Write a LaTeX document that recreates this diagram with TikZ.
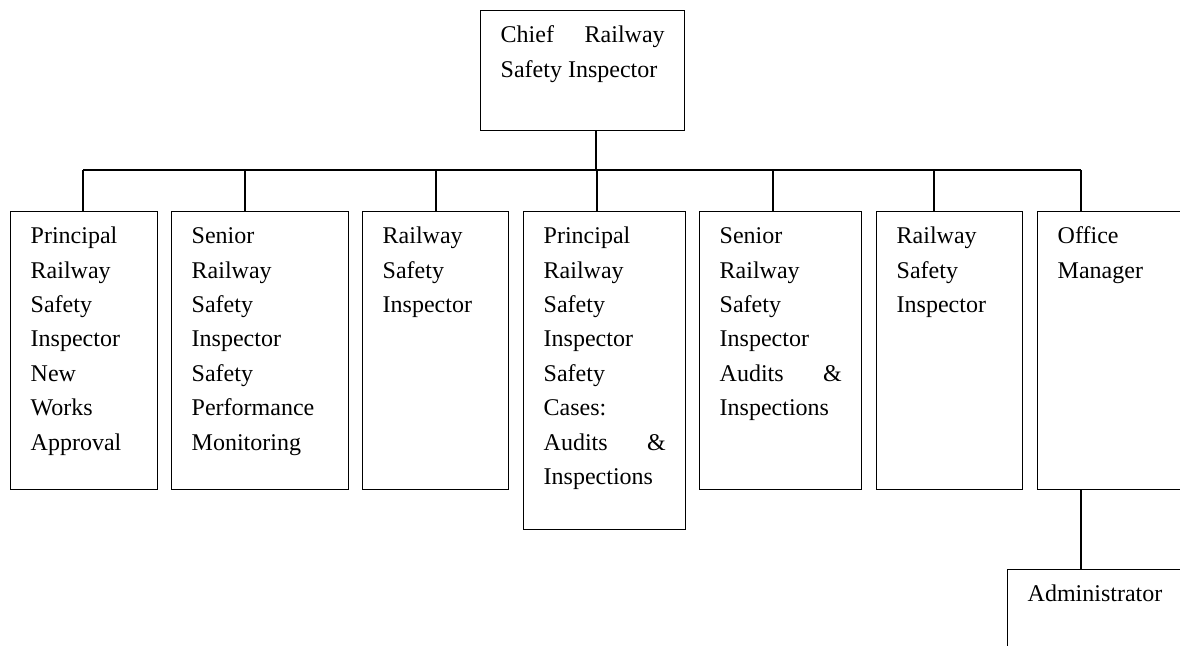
\documentclass[tikz,border=0pt]{standalone}
\usepackage{fontspec}
\setmainfont{Liberation Serif}
\tikzset{
  puesto/.style={draw, line width=0.7pt, anchor=north west, inner xsep=10pt,
    inner ysep=0pt, text height=16pt, font=\fontsize{12}{17.2}\selectfont},
  enlace/.style={line width=0.7pt},
}
\begin{document}
\begin{tikzpicture}[x=0.5pt, y=-0.5pt]
    \path[use as bounding box, clip] (0,0) rectangle (1180,646);

    % Jefe
    \node[puesto, text depth=44pt] (chief) at (480,10)
      {\parbox[t]{82pt}{Chief\hfill Railway\\Safety Inspector}};

    % Segundo nivel
    \node[puesto, text depth=123pt] (b1) at (10,211)
      {\parbox[t]{53.5pt}{Principal\\Railway\\Safety\\Inspector\\New\\Works\\Approval}};
    \node[puesto, text depth=123pt] (b2) at (171,211)
      {\parbox[t]{68.5pt}{Senior\\Railway\\Safety\\Inspector\\Safety\\Performance\\Monitoring}};
    \node[puesto, text depth=123pt] (b3) at (362,211)
      {\parbox[t]{53pt}{Railway\\Safety\\Inspector}};
    \node[puesto, text depth=143pt] (b4) at (523,211)
      {\parbox[t]{61pt}{Principal\\Railway\\Safety\\Inspector\\Safety\\Cases:\\Audits\hfill\&\\Inspections}};
    \node[puesto, text depth=123pt] (b5) at (699,211)
      {\parbox[t]{61pt}{Senior\\Railway\\Safety\\Inspector\\Audits\hfill\&\\Inspections}};
    \node[puesto, text depth=123pt] (b6) at (876,211)
      {\parbox[t]{53pt}{Railway\\Safety\\Inspector}};
    \node[puesto, text depth=123pt] (b7) at (1037,211)
      {\parbox[t]{65pt}{Office\\Manager}};

    % Tercer nivel
    \node[puesto, text depth=44pt] (admin) at (1007,569)
      {\parbox[t]{80pt}{Administrator}};

    % Lineas de union
    \coordinate (bus) at (0,170);
    \coordinate (d0) at ([xshift=58pt]chief.south west);
    \draw[enlace] (d0) -- (d0 |- bus);
    \foreach \n/\d in {b1/36.5pt, b2/37pt, b3/37pt, b4/37pt, b5/37pt, b6/29pt, b7/22pt}
        \draw[enlace] ([xshift=\d]\n.north west) coordinate (d\n) -- (d\n |- bus);
    \draw[enlace] (db1 |- bus) -- (db7 |- bus);
    \coordinate (d8) at ([xshift=22pt]b7.south west);
    \draw[enlace] (d8) -- (d8 |- admin.north);
\end{tikzpicture}
\end{document}
